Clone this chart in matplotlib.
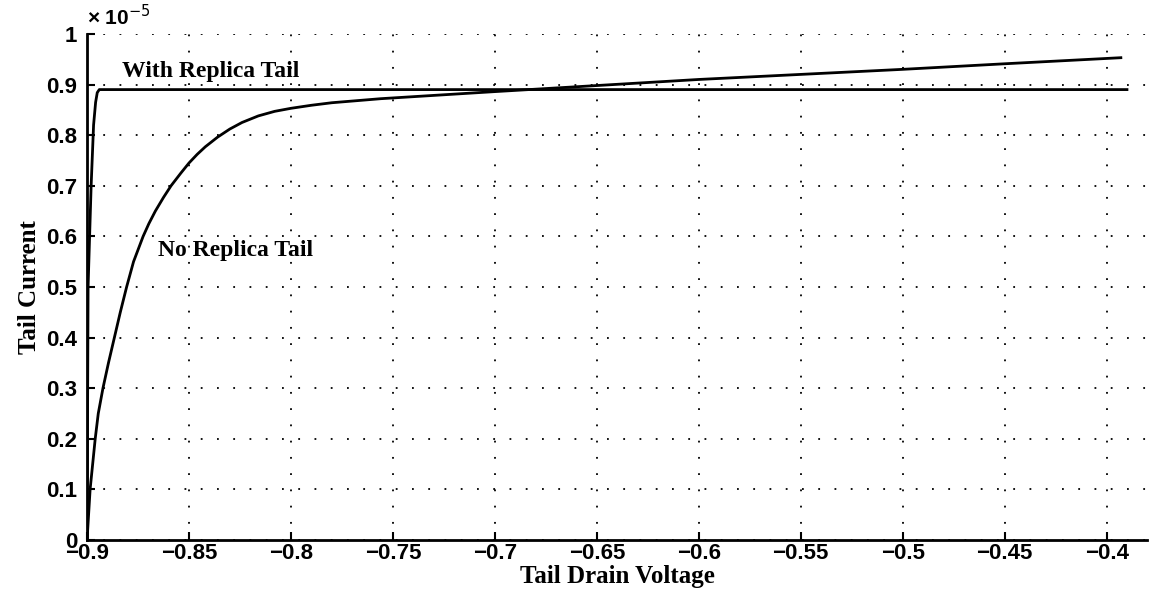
"""
Tail current vs tail drain voltage, with and without a replica tail.
"""

import matplotlib
matplotlib.use("Agg")
import matplotlib.pyplot as plt

# Tail current values are in units of 1e-5 A
no_replica_v = [-0.9, -0.8985, -0.896, -0.8945, -0.8922, -0.8895, -0.8866, -0.8837,
                -0.8806, -0.8772, -0.8725, -0.8697, -0.8665, -0.8625, -0.8588, -0.854,
                -0.85, -0.846, -0.842, -0.836, -0.83, -0.824, -0.816, -0.808,
                -0.80, -0.79, -0.78, -0.768, -0.756, -0.74, -0.72, -0.70,
                -0.65, -0.60, -0.55, -0.50, -0.45, -0.393]
no_replica_i = [0.0, 0.1, 0.2, 0.25, 0.3, 0.35, 0.4, 0.45,
                0.5, 0.55, 0.6, 0.625, 0.65, 0.677, 0.7, 0.725,
                0.745, 0.762, 0.777, 0.796, 0.812, 0.825, 0.838, 0.847,
                0.853, 0.859, 0.864, 0.868, 0.872, 0.876, 0.881, 0.886,
                0.898, 0.91, 0.92, 0.93, 0.941, 0.953]

replica_v = [-0.9, -0.8995, -0.898, -0.8968, -0.8958, -0.895, -0.894, -0.39]
replica_i = [0.0, 0.5, 0.7, 0.82, 0.865, 0.884, 0.89, 0.89]

x_ticks = [-0.9, -0.85, -0.8, -0.75, -0.7, -0.65, -0.6, -0.55, -0.5, -0.45, -0.4]
y_ticks = [0, 0.1, 0.2, 0.3, 0.4, 0.5, 0.6, 0.7, 0.8, 0.9, 1]
x_labels = ["\u22120.9", "\u22120.85", "\u22120.8", "\u22120.75", "\u22120.7", "\u22120.65",
            "\u22120.6", "\u22120.55", "\u22120.5", "\u22120.45", "\u22120.4"]
y_labels = ["0", "0.1", "0.2", "0.3", "0.4", "0.5", "0.6", "0.7", "0.8", "0.9", "1"]

fig = plt.figure(figsize=(11.5, 5.94), dpi=100)
ax = fig.add_axes([0.0757, 0.0909, 0.922, 0.852])

ax.plot(no_replica_v, no_replica_i, color="black", linewidth=2)
ax.plot(replica_v, replica_i, color="black", linewidth=2)

ax.set_xlim(-0.9, -0.38)
ax.set_ylim(0, 1)
ax.set_xticks(x_ticks)
ax.set_yticks(y_ticks)
ax.set_xticklabels(x_labels, fontfamily="Liberation Sans", fontweight="bold", fontsize=16)
ax.set_yticklabels(y_labels, fontfamily="Liberation Sans", fontweight="bold", fontsize=16)
ax.tick_params(axis="x", direction="in", length=6, width=1.5, pad=2)
ax.tick_params(axis="y", direction="in", length=6, width=1.5, pad=7)

ax.spines["top"].set_visible(False)
ax.spines["right"].set_visible(False)
ax.spines["left"].set_linewidth(2)
ax.spines["bottom"].set_linewidth(2)

ax.grid(True, linestyle=(0, (1, 8)), color="black", linewidth=1.3)

ax.set_xlabel("Tail Drain Voltage", fontfamily="Liberation Serif", fontweight="bold",
              fontsize=18, labelpad=1)
ax.set_ylabel("Tail Current", fontfamily="Liberation Serif", fontweight="bold",
              fontsize=18, labelpad=4)

ax.text(0.0, 1.01, "\u00d7 10$^{-5}$", transform=ax.transAxes, fontfamily="Liberation Sans",
        fontweight="bold", fontsize=15, ha="left", va="bottom")

ax.text(-0.883, 0.925, "With Replica Tail", fontfamily="Liberation Serif",
        fontweight="bold", fontsize=17, ha="left", va="center")
ax.text(-0.865, 0.573, "No Replica Tail", fontfamily="Liberation Serif",
        fontweight="bold", fontsize=17, ha="left", va="center")

fig.savefig("out.png", dpi=100)
